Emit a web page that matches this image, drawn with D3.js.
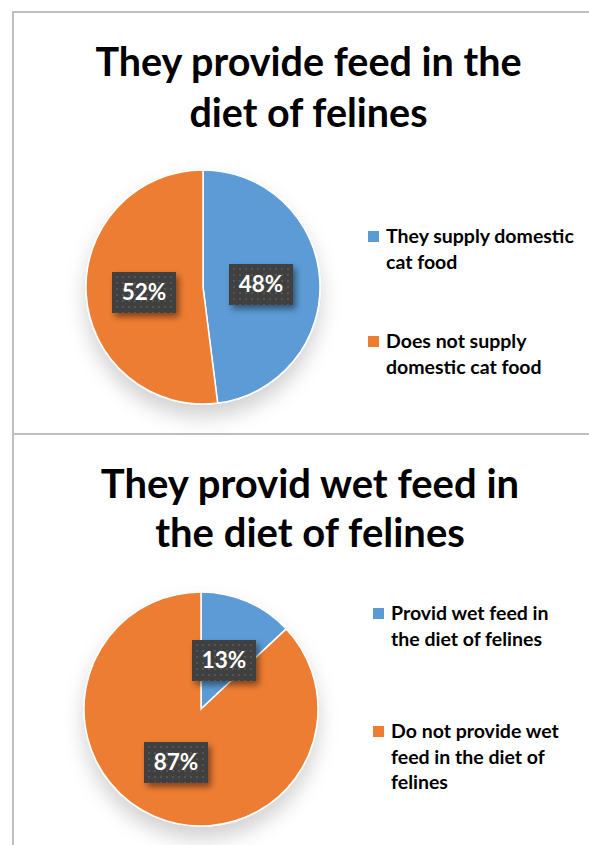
<!DOCTYPE html>
<html><head><meta charset="utf-8">
<script src="https://cdn.jsdelivr.net/npm/d3@7"></script>
<style>body{margin:0;background:#fff}svg{display:block}</style>
</head><body>
<svg id="c" width="589" height="845"></svg>
<script>
const titles1 = ["They provide feed in the", "diet of felines"];
const categories1 = ["They supply domestic cat food", "Does not supply domestic cat food"];
const legendLines1 = [["They supply domestic", "cat food"], ["Does not supply", "domestic cat food"]];
const values1 = [48, 52];

const titles2 = ["They provid wet feed in", "the diet of felines"];
const categories2 = ["Provid wet feed in the diet of felines", "Do not provide wet feed in the diet of felines"];
const legendLines2 = [["Provid wet feed in", "the diet of felines"], ["Do not provide wet", "feed in the diet of", "felines"]];
const values2 = [13, 87];

const colors = ["#5b9bd5", "#ed7d31"];
const FONT = "Lato, 'Open Sans', sans-serif";

const svg = d3.select("#c");
const defs = svg.append("defs");
const sh = defs.append("filter").attr("id","pieShadow").attr("x","-30%").attr("y","-30%").attr("width","160%").attr("height","170%");
sh.append("feDropShadow").attr("dx",0).attr("dy",12).attr("stdDeviation",10).attr("flood-color","#000").attr("flood-opacity",0.18);
const bs = defs.append("filter").attr("id","boxShadow").attr("x","-30%").attr("y","-30%").attr("width","170%").attr("height","180%");
bs.append("feDropShadow").attr("dx",3).attr("dy",4).attr("stdDeviation",3).attr("flood-color","#000").attr("flood-opacity",0.45);
const pat = defs.append("pattern").attr("id","dots").attr("width",6).attr("height",6).attr("patternUnits","userSpaceOnUse");
pat.append("rect").attr("width",6).attr("height",6).attr("fill","#404040");
pat.append("rect").attr("x",2).attr("y",2).attr("width",2).attr("height",2).attr("fill","#555");

// panel borders
svg.append("rect").attr("x",13).attr("y",12).attr("width",600).attr("height",422).attr("fill","none").attr("stroke","#bfbfbf").attr("stroke-width",2);
svg.append("rect").attr("x",13).attr("y",434).attr("width",600).attr("height",430).attr("fill","none").attr("stroke","#bfbfbf").attr("stroke-width",2);

function panel(cfg){
  const g = svg.append("g");
  g.selectAll("text.title").data(cfg.titles).join("text")
    .attr("x", cfg.titleX).attr("y",(d,i)=>cfg.titleY + i*cfg.titleGap)
    .attr("text-anchor","middle").attr("font-family",FONT).attr("font-weight","bold")
    .attr("font-size",cfg.titleSize).attr("fill","#000").text(d=>d);

  const pie = d3.pie().sort(null).value(d=>d);
  const arcs = pie(cfg.values);
  const r = 117;
  const arc = d3.arc().innerRadius(0).outerRadius(r);
  const pg = g.append("g").attr("transform",`translate(${cfg.cx},${cfg.cy})`);
  pg.append("g").attr("filter","url(#pieShadow)").selectAll("path").data(arcs).join("path")
    .attr("d",arc).attr("fill",(d,i)=>colors[i]).attr("stroke","#fff").attr("stroke-width",1.5);

  cfg.labelPos.forEach((p,i)=>{
    const lg = pg.append("g").attr("transform",`translate(${p[0]},${p[1]})`);
    lg.append("rect").attr("x",-32).attr("y",-20).attr("width",64).attr("height",41)
      .attr("fill","url(#dots)").attr("filter","url(#boxShadow)");
    lg.append("text").attr("text-anchor","middle").attr("dy","0.36em")
      .attr("font-family",FONT).attr("font-weight","bold").attr("font-size",22.5)
      .attr("fill","#fff").text(cfg.values[i]+"%");
  });

  cfg.legend.forEach((lines,i)=>{
    const y0 = cfg.legendY[i];
    g.append("rect").attr("x",cfg.legendX).attr("y",y0-12).attr("width",11).attr("height",11).attr("fill",colors[i]);
    g.append("text").attr("font-family",FONT).attr("font-weight","bold").attr("font-size",19.5).attr("fill","#000")
      .selectAll("tspan").data(lines).join("tspan")
      .attr("x",cfg.legendX+18).attr("y",(d,j)=>y0+j*25.5).text(d=>d);
  });
}

panel({titles:titles1,titleX:308.5,titleY:75.5,titleGap:51,titleSize:39.5,values:values1,cx:203,cy:287,
  labelPos:[[58,-3],[-59,5]],legend:legendLines1,legendX:368,legendY:[243,348]});
panel({titles:titles2,titleX:310,titleY:497.5,titleGap:49.5,titleSize:40,values:values2,cx:201,cy:709,
  labelPos:[[23,-49],[-25,53]],legend:legendLines2,legendX:373,legendY:[620,738]});
</script>
</body></html>
